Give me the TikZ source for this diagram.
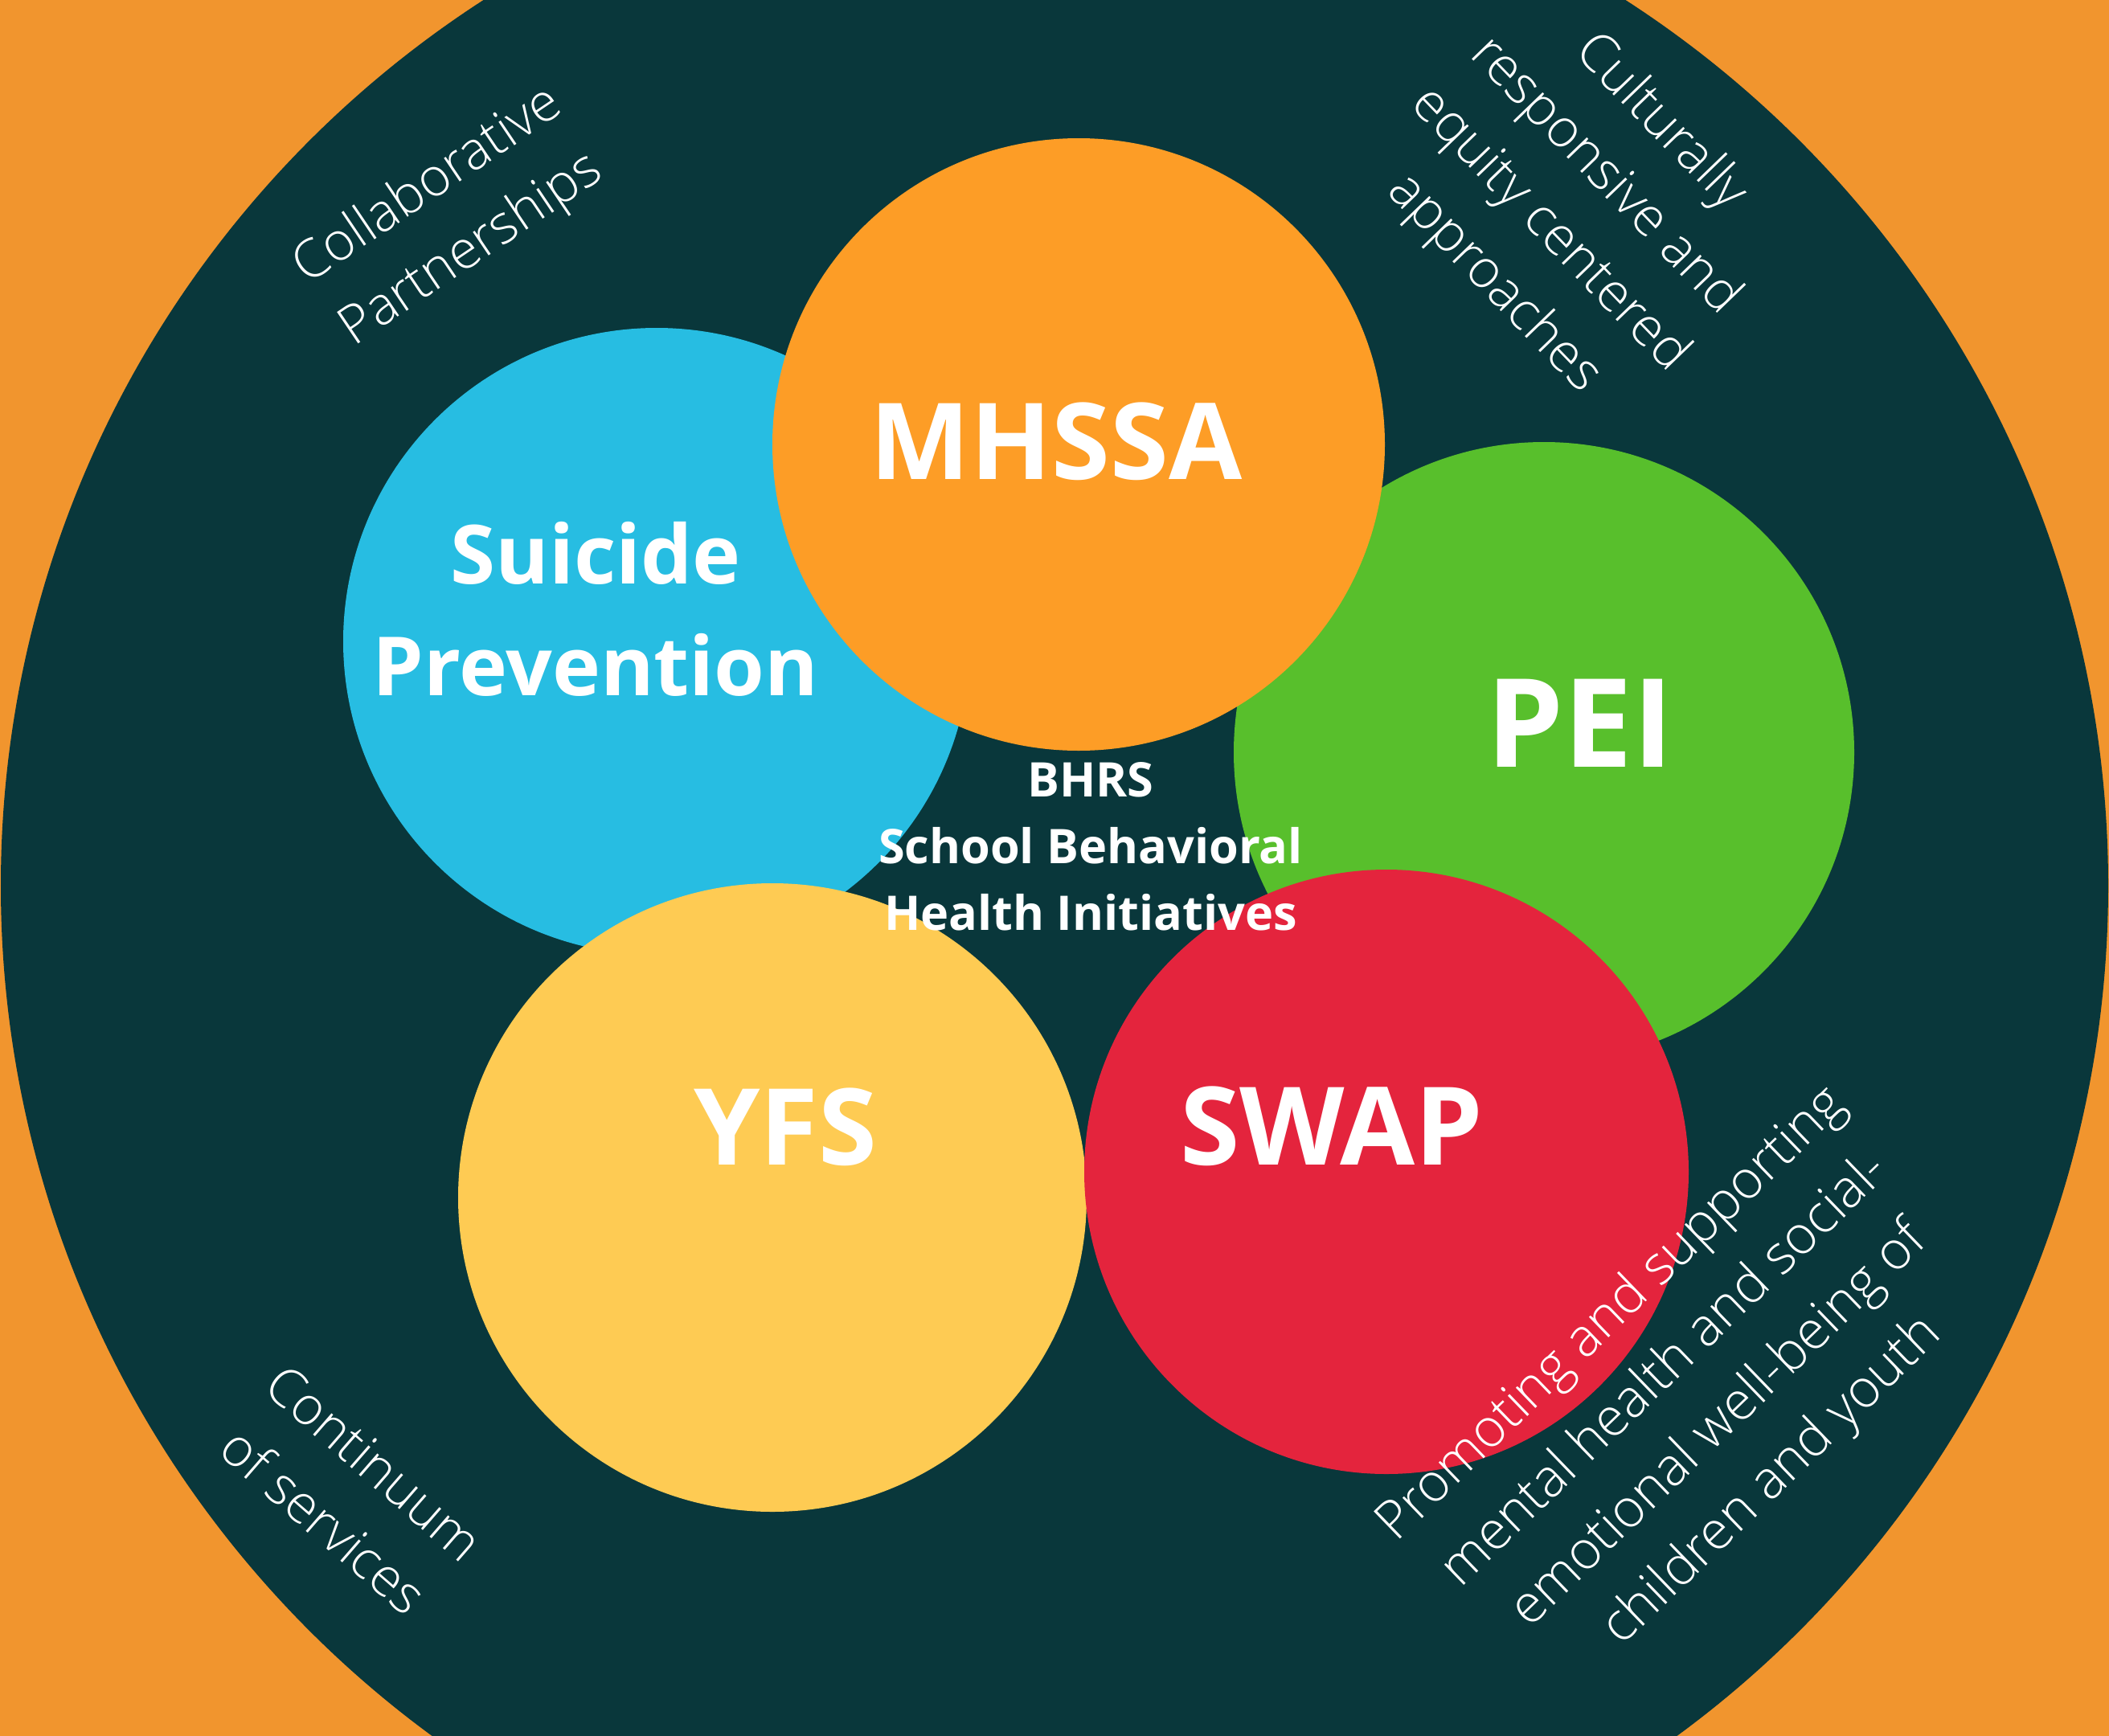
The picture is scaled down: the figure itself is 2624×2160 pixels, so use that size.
\documentclass[tikz,border=0pt]{standalone}
\usepackage{fontspec}
\setmainfont{Open Sans}
\IfFontExistsTF{Open Sans Light}{\newfontfamily\thinfont{Open Sans Light}}{\newfontfamily\thinfont{Open Sans}}

\definecolor{bgorange}{HTML}{F1952E}
\definecolor{deepteal}{HTML}{09373B}
\definecolor{skyblue}{HTML}{27BDE2}
\definecolor{mhorange}{HTML}{FD9D26}
\definecolor{peigreen}{HTML}{58BF2C}
\definecolor{yfsyellow}{HTML}{FECB53}
\definecolor{swapred}{HTML}{E4243D}

\begin{document}
\begin{tikzpicture}[x=0.1mm,y=0.1mm]
   \tikzstyle{every node}=[text=white, align=center, inner sep=0pt]
   \tikzstyle{bigname}=[font=\bfseries\fontsize{37.6}{45}\selectfont]
   \tikzstyle{sidenote}=[font=\thinfont\fontsize{18.8}{27.3}\selectfont]

\useasboundingbox (0,0) rectangle (2624,-2160);
\fill[bgorange] (0,0) rectangle (2624,-2160);
\fill[deepteal] (1312,-1102) circle (1311);

% the five programme circles, back to front
\fill[skyblue] (817,-798) circle (390);
\fill[peigreen] (1921,-936) circle (386);
\fill[mhorange] (1342,-553) circle (381);
\fill[yfsyellow] (961,-1490) circle (391);
\fill[swapred] (1725,-1458) circle (376);

\node[font=\bfseries\fontsize{28.9}{39.5}\selectfont] (suicide) at (741,-758) {Suicide\\Prevention};
\node[bigname] (mhssa) at (1314,-549) {MHSSA};
\node[font=\bfseries\fontsize{43.6}{50}\selectfont] (pei) at (1966,-900) {PEI};
\node[bigname] (yfs) at (977,-1402) {YFS};
\node[bigname, font=\bfseries\fontsize{38.4}{45}\selectfont] (swap) at (1657,-1401) {SWAP};
\node[font=\bfseries\fontsize{16.9}{23.6}\selectfont] (bhrs) at (1357,-1053) {BHRS\\School Behavioral\\Health Initiatives};

% values round the edge
\node[sidenote, rotate=34] (collab) at (560,-272) {Collaborative\\Partnerships};
\node[sidenote, rotate=-46] (culture) at (1962,-253) {Culturally\\responsive and\\equity centered\\approaches};
\node[sidenote, rotate=-41] (continuum) at (434,-1856) {Continuum\\of services};
\node[sidenote, rotate=44] (wellbeing) at (2106,-1740) {Promoting and supporting\\mental health and social-\\emotional well-being of\\children and youth};

\end{tikzpicture}
\end{document}
